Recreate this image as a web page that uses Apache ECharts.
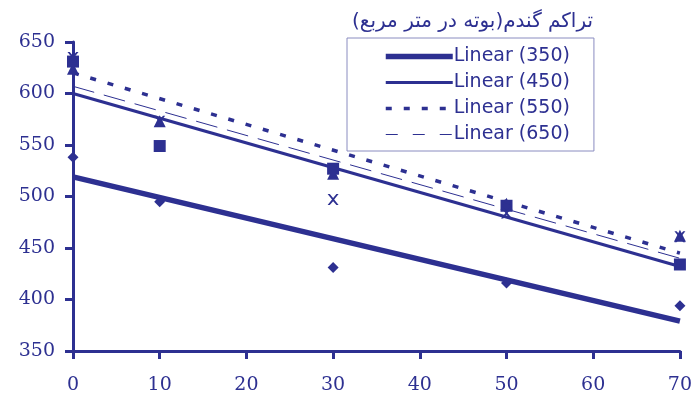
<!DOCTYPE html>
<html><head><meta charset="utf-8">
<script src="https://cdn.jsdelivr.net/npm/echarts@6/dist/echarts.min.js"></script>
<style>html,body{margin:0;padding:0;background:#fff}#c{width:695px;height:395px}</style>
</head><body><div id="c"></div>
<script>
var xValues = [0, 10, 30, 50, 70];
var d350 = [538, 495, 431, 416, 394];
var d450 = [631, 549, 527, 491, 434];
var d550 = [624, 573, 522, 493, 462];
var d650 = [635, 573, 497, 484, 461];
var trendX = [0, 70];
var t350 = [519, 379];
var t450 = [600, 432];
var t550 = [620, 445];
var t650 = [607, 440];
var yTicks = [350, 400, 450, 500, 550, 600, 650];
var xTicks = [0, 10, 20, 30, 40, 50, 60, 70];
var legendTitle = 'تراکم گندم(بوته در متر مربع)';
var names = ['Linear (350)', 'Linear (450)', 'Linear (550)', 'Linear (650)'];

var C = '#2d3091';
function pts(ys){ return xValues.map(function(x,i){return [x, ys[i]];}); }
function tr(ys){ return trendX.map(function(x,i){return [x, ys[i]];}); }
var crossPath = 'path://M0,0 L2,0 L5,3.5 L8,0 L10,0 L6,5 L10,10 L8,10 L5,6.5 L2,10 L0,10 L4,5 Z';
var styles = [
  {color: C, width: 5.5},
  {color: C, width: 3},
  {color: C, width: 3.5, type: [6, 12]},
  {color: C, width: 1, type: [12, 15]}
];

var chart = echarts.init(document.getElementById('c'));
chart.setOption({
  animation: false,
  backgroundColor: '#fff',
  grid: {left: 73, right: 11, top: 42, bottom: 42},
  title: {text: legendTitle, right: 97, top: 7,
    textStyle: {fontFamily: 'DejaVu Sans', fontSize: 20, fontWeight: 'normal', color: C}},
  legend: {
    data: names.map(function(n, i){ return {name: n, lineStyle: styles[i]}; }),
    orient: 'vertical', left: 347, top: 38,
    width: 250,
    padding: [9, 24, 7, 36],
    borderColor: '#8a8cc0', borderWidth: 1,
    itemWidth: 67, itemHeight: 14, itemGap: 7,
    itemStyle: {opacity: 0},
    textStyle: {fontFamily: 'DejaVu Sans', fontSize: 19, color: C, padding: [0,0,0,-4]}
  },
  xAxis: {type: 'value', min: 0, max: 70, interval: 10,
    axisLine: {lineStyle: {color: C, width: 3}},
    axisTick: {show: true, length: 8, lineStyle: {color: C, width: 3}},
    axisLabel: {color: C, fontFamily: 'DejaVu Serif', fontSize: 19, margin: 25,
      formatter: function(v){ return xTicks.indexOf(v) >= 0 ? String(v) : ''; }},
    splitLine: {show: false}},
  yAxis: {type: 'value', min: 350, max: 650, interval: 50,
    axisLine: {show: true, lineStyle: {color: C, width: 3}},
    axisTick: {show: true, length: 8, lineStyle: {color: C, width: 3}},
    axisLabel: {color: C, fontFamily: 'DejaVu Serif', fontSize: 19, margin: 18,
      formatter: function(v){ return yTicks.indexOf(v) >= 0 ? String(v) : ''; }},
    splitLine: {show: false}},
  series: [
    {name: names[0], type: 'line', data: tr(t350), symbol: 'none', lineStyle: styles[0], itemStyle: {color: C}},
    {name: names[1], type: 'line', data: tr(t450), symbol: 'none', lineStyle: styles[1], itemStyle: {color: C}},
    {name: names[2], type: 'line', data: tr(t550), symbol: 'none', lineStyle: styles[2], itemStyle: {color: C}},
    {name: names[3], type: 'line', data: tr(t650), symbol: 'none', lineStyle: {color: C, width: 1, type: [22, 10]}, itemStyle: {color: C}},
    {type: 'scatter', data: pts(d350), symbol: 'diamond', symbolSize: 11, itemStyle: {color: C, opacity: 1}},
    {type: 'scatter', data: pts(d450), symbol: 'rect', symbolSize: 12, itemStyle: {color: C, opacity: 1}},
    {type: 'scatter', data: pts(d550), symbol: 'triangle', symbolSize: 12, itemStyle: {color: C, opacity: 1}},
    {type: 'scatter', data: pts(d650), symbol: crossPath, symbolSize: 11, itemStyle: {color: C, opacity: 1}}
  ]
});
</script></body></html>
